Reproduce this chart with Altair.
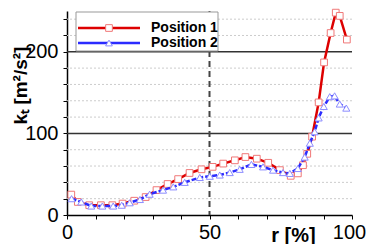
import altair as alt
import pandas as pd

# ---- data ----
series = ["Position 1", "Position 2"]

r1 = [1.5, 3.8, 7.8, 11.9, 15.9, 19.5, 23.6, 27.6, 31.4, 35.3, 39.0, 43.0, 47.2, 51.1,
      54.8, 58.9, 62.6, 66.6, 70.6, 74.7, 78.5, 81.0, 82.8, 84.3, 86.0, 88.3, 90.2,
      92.5, 94.3, 95.7, 98.2]
k1 = [25, 16, 12, 12, 12, 14, 17.5, 22, 30.5, 38, 44, 51.5, 56, 59,
      63, 67, 71, 69, 64, 55, 48, 51, 61, 75, 96, 138, 187,
      223, 248, 244, 215]

r2 = [1.6, 5.0, 8.5, 12.4, 16.2, 19.2, 22.0, 25.6, 29.0, 33.7, 37.3, 41.3, 46.6, 50.1,
      53.6, 57.1, 60.6, 64.7, 68.8, 72.3, 75.8, 78.2, 81.0, 83.4, 85.2, 86.9, 88.3,
      90.1, 92.2, 93.9, 95.7, 98.0]
k2 = [20, 16, 11, 11, 11, 12, 15, 19, 25.5, 30.5, 34.5, 40, 46, 47.5,
      49, 52, 56, 62, 59, 55, 52, 51, 57, 71, 88, 102, 119,
      133, 145, 146, 136, 131]

x_ticks = [0, 10, 20, 30, 40, 50, 60, 70, 80, 90, 100]
y_ticks = [0, 20, 40, 60, 80, 100, 120, 140, 160, 180, 200, 220, 240]
major_grid = [100, 200]
minor_grid = [20, 40, 60, 80, 120, 140, 160, 180, 220, 240]
ref_line_x = [50]

FONT = "Liberation Sans"
RED = "#dd0000"
RED_M = "#f07878"
BLUE = "#2b2bff"
BLUE_M = "#8c8cff"

df1 = pd.DataFrame({"r": r1, "k": k1})
df2 = pd.DataFrame({"r": r2, "k": k2})

xscale = alt.Scale(domain=[0, 100], nice=False, zero=False)
yscale = alt.Scale(domain=[0, 250], nice=False)

xaxis = alt.Axis(values=x_ticks, labelExpr="datum.value % 50 === 0 ? datum.label : ''",
                 grid=False, tickSize=4, tickColor="black", domainColor="black",
                 domainWidth=1.5, tickWidth=1, labelFontSize=20, labelFont=FONT,
                 labelColor="black", labelPadding=3, labelFlush=False, labelOverlap=False,
                 labelBound=False,
                 labelOffset={"condition": {"test": "datum.value === 100", "value": -3}, "value": 0},
                 title="r [%]", titleFont=FONT, titleFontSize=20, titleFontWeight="bold",
                 titleColor="black", titleX=226, titleY=26, titleAlign="center",
                 titleBaseline="alphabetic", titleAnchor="start")
yaxis = alt.Axis(values=y_ticks, labelExpr="datum.value % 100 === 0 ? datum.label : ''",
                 grid=False, tickSize=4, tickColor="black", domainColor="black",
                 domainWidth=1.5, tickWidth=1, labelFontSize=20, labelFont=FONT,
                 labelColor="black", labelPadding=5, labelFlush=False, labelOverlap=False,
                 labelBound=False,
                 title="kₜ [m²/s²]", titleFont=FONT, titleFontSize=19, titleFontWeight="bold",
                 titleColor="black", titleX=-41, titleY=74, titleAlign="center",
                 titleBaseline="alphabetic", titleAngle=270, titleAnchor="start")

X = alt.X("r:Q", scale=xscale, axis=xaxis)
Y = alt.Y("k:Q", scale=yscale, axis=yaxis)

minor = alt.Chart(pd.DataFrame({"k": minor_grid})).mark_rule(
    color="#cccccc", strokeWidth=1, strokeDash=[2, 2]).encode(y=Y)
major = alt.Chart(pd.DataFrame({"k": major_grid})).mark_rule(
    color="#333333", strokeWidth=1.5).encode(y=Y)
vline = alt.Chart(pd.DataFrame({"r": ref_line_x})).mark_rule(
    color="#444444", strokeWidth=2, strokeDash=[6, 4]).encode(x=X)

line1 = alt.Chart(df1).mark_line(color=RED, strokeWidth=2.5).encode(x=X, y=Y)
pts1 = alt.Chart(df1).mark_point(shape="square", size=45, filled=True, fill="white",
                                 stroke=RED_M, strokeWidth=1, opacity=1).encode(x=X, y=Y)
line2 = alt.Chart(df2).mark_line(color=BLUE, strokeWidth=2.5, strokeDash=[5, 2]).encode(x=X, y=Y)
pts2 = alt.Chart(df2).mark_point(shape="triangle-up", size=50, filled=True, fill="white",
                                 stroke=BLUE_M, strokeWidth=1, opacity=1).encode(x=X, y=Y)

# ---- legend (drawn manually) ----
one = pd.DataFrame({"a": [0]})
leg_box = alt.Chart(one).mark_rect(fill="white", stroke="#999999", strokeWidth=1).encode(
    x=alt.value(9), x2=alt.value(151), y=alt.value(1), y2=alt.value(40))

legend_layers = [leg_box]
for i, (lab, col, mcol, shp) in enumerate([(series[0], RED, RED_M, "square"),
                                           (series[1], BLUE, BLUE_M, "triangle-up")]):
    yy = 17 + 15 * i
    legend_layers.append(alt.Chart(one).mark_rule(color=col, strokeWidth=2.5).encode(
        x=alt.value(11), x2=alt.value(73), y=alt.value(yy)))
    legend_layers.append(alt.Chart(one).mark_point(shape=shp, size=45, filled=True, fill="white",
                                                   stroke=mcol, strokeWidth=1, opacity=1).encode(
        x=alt.value(42), y=alt.value(yy)))
    legend_layers.append(alt.Chart(pd.DataFrame({"label": [lab]})).mark_text(
        font=FONT, fontSize=14, fontWeight="bold", color="black", align="left",
        baseline="middle").encode(x=alt.value(84), y=alt.value(yy), text="label:N"))

chart = alt.layer(minor, major, vline, line1, pts1, line2, pts2, *legend_layers).properties(
    width=285, height=204,
    autosize=alt.AutoSizeParams(type="none"),
    padding={"left": 59, "top": 3, "right": 14, "bottom": 29},
    background="white",
).configure_view(stroke=None)

chart.save("out.html", embed_options={"renderer": "svg", "actions": False})
